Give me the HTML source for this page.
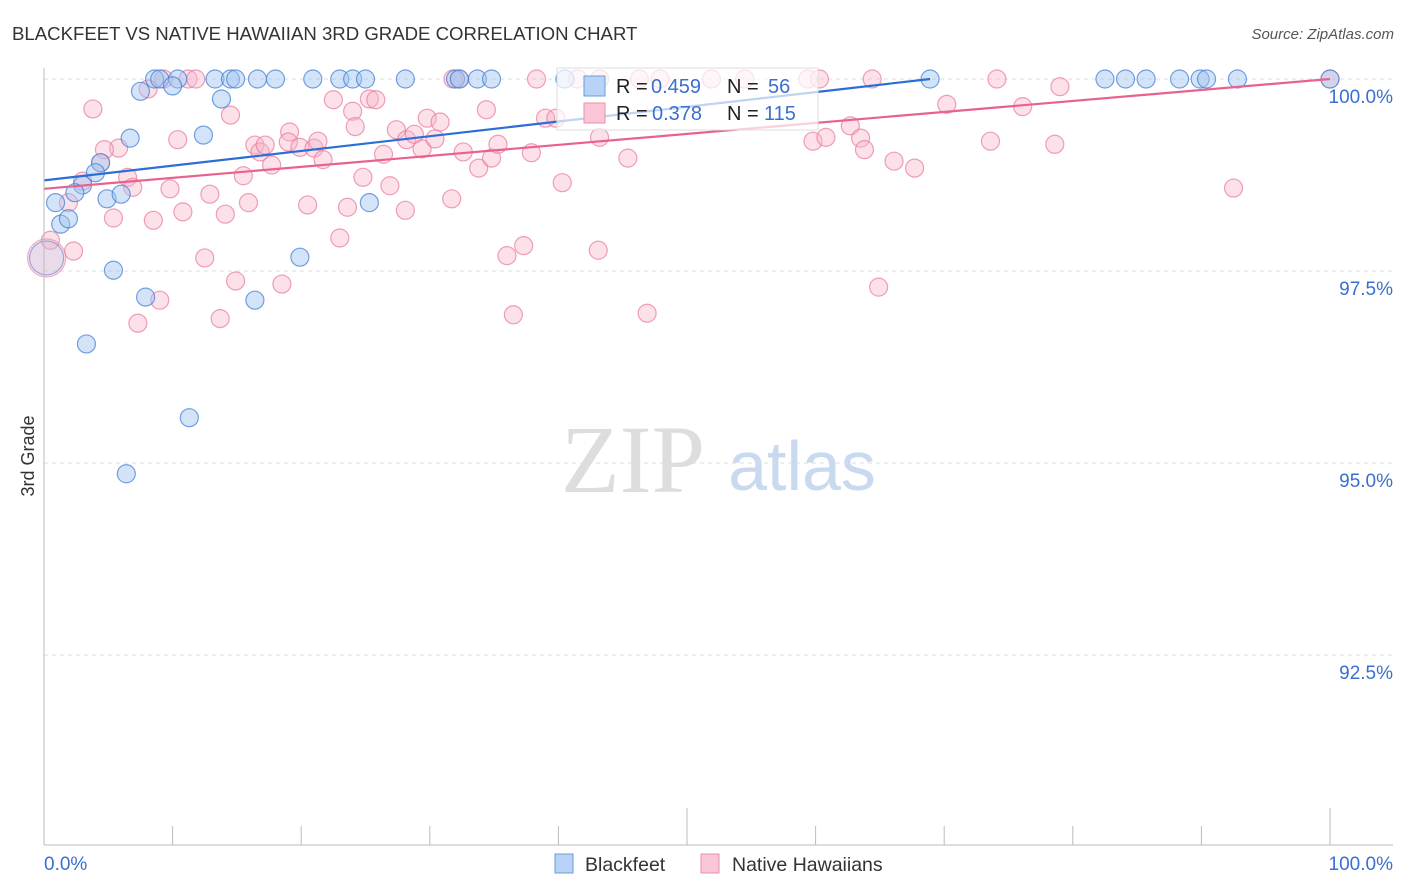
<!DOCTYPE html>
<html><head><meta charset="utf-8"><style>
body{margin:0;background:#fff;font-family:"Liberation Sans",sans-serif}
#wrap{position:relative;width:1406px;height:892px;overflow:hidden}
</style></head><body><div id="wrap">
<svg id="svg" width="1406" height="892" xmlns="http://www.w3.org/2000/svg">
<text x="12" y="40" font-size="18.6" fill="#333">BLACKFEET VS NATIVE HAWAIIAN 3RD GRADE CORRELATION CHART</text>
<text x="1394" y="39" font-size="15" fill="#555" text-anchor="end" font-style="italic">Source: ZipAtlas.com</text>
<text x="34" y="456" font-size="18" fill="#333" text-anchor="middle" transform="rotate(-90 34 456)">3rd Grade</text>
<text x="633" y="492" font-size="96" fill="#ddd" text-anchor="middle" font-family="Liberation Serif,serif">ZIP</text>
<text x="802" y="490" font-size="70" fill="#c8d9f0" text-anchor="middle">atlas</text>
<g id="grid"></g><g id="pts"></g><g id="lines"></g>
<line x1="44" y1="68" x2="44" y2="845" stroke="#bbb"/>
<line x1="44" y1="845" x2="1393" y2="845" stroke="#bbb"/>
<text x="44" y="870" font-size="19" fill="#3a6fd0">0.0%</text>
<text x="1393" y="870" font-size="19" fill="#3a6fd0" text-anchor="end">100.0%</text>
<g>
<rect x="555" y="854" width="18" height="19" fill="#b8d3f5" stroke="#6a9be0"/>
<text x="585" y="871" font-size="19.5" fill="#333">Blackfeet</text>
<rect x="701" y="854" width="18" height="19" fill="#f9c6d5" stroke="#ec8fac"/>
<text x="732" y="871" font-size="19.5" fill="#333">Native Hawaiians</text>
</g>
<g>
<rect x="557" y="68" width="261" height="62" fill="rgba(255,255,255,0.7)" stroke="#ddd"/>
<rect x="584" y="76" width="21" height="20" fill="#b8d3f5" stroke="#6a9be0"/>
<text x="616" y="93" font-size="20" fill="#222">R =</text>
<text x="651" y="93" font-size="20" fill="#3a6fd0">0.459</text>
<text x="727" y="93" font-size="20" fill="#222">N =</text>
<text x="768" y="93" font-size="20" fill="#3a6fd0">56</text>
<rect x="584" y="103" width="21" height="20" fill="#f9c6d5" stroke="#ec8fac"/>
<text x="616" y="120" font-size="20" fill="#222">R =</text>
<text x="652" y="120" font-size="20" fill="#3a6fd0">0.378</text>
<text x="727" y="120" font-size="20" fill="#222">N =</text>
<text x="764" y="120" font-size="20" fill="#3a6fd0">115</text>
</g>
</svg></div>
<script>
const yTicks=[100,97.5,95,92.5];
const yTickLabels=["100.0%","97.5%","95.0%","92.5%"];
const xTickVals=[0,10,20,30,40,50,60,70,80,90,100];
const blueX=[8.6,9.0,10.4,13.3,14.5,14.9,16.6,18.0,20.9,23.0,24.0,25.0,28.1,32.0,32.3,33.7,34.8,40.5,68.9,82.5,84.1,85.7,88.3,89.9,90.4,92.8,100,7.5,10.0,13.8,6.7,12.4,4.4,4.0,3.0,2.4,0.9,4.9,6.0,1.3,1.9,25.3,5.4,19.9,7.9,16.4,3.3,11.3,6.4];
const blueY=[100,100,100,100,100,100,100,100,100,100,100,100,100,100,100,100,100,100,100,100,100,100,100,100,100,100,100,99.84,99.91,99.74,99.23,99.27,98.91,98.78,98.62,98.52,98.39,98.44,98.50,98.11,98.18,98.39,97.51,97.68,97.16,97.12,96.55,95.59,94.86];
const pinkX=[9.3,11.2,11.8,31.8,32.3,38.3,41.5,43.2,46.3,47.9,51.9,54.5,59.4,60.3,64.4,74.1,100,79.0,3.8,8.1,14.5,10.4,5.8,4.7,4.4,6.5,6.9,3.0,1.9,2.3,0.5,5.4,8.5,9.8,10.8,12.9,12.5,14.1,13.7,14.9,7.3,9.0,15.5,15.9,16.4,16.8,17.2,17.7,18.5,19.1,19.0,19.9,20.5,21.0,21.3,21.7,22.5,23.0,23.6,24.0,24.2,24.8,25.3,25.8,26.4,26.9,27.4,28.1,28.2,28.8,29.4,29.8,30.4,30.8,31.7,32.6,33.8,34.4,34.8,35.3,36.0,36.5,37.3,37.9,39.0,39.8,40.3,43.1,43.2,45.4,46.9,59.8,60.8,62.7,63.5,63.8,64.9,66.1,67.7,70.2,73.6,76.1,78.6,92.5];
const pinkY=[100,100,100,100,100,100,100,100,100,100,100,100,100,100,100,100,100,99.9,99.61,99.87,99.53,99.21,99.10,99.08,98.91,98.72,98.59,98.67,98.39,97.76,97.90,98.19,98.16,98.57,98.27,98.50,97.67,98.24,96.88,97.37,96.82,97.12,98.74,98.39,99.14,99.05,99.14,98.88,97.33,99.31,99.18,99.11,98.36,99.10,99.19,98.95,99.73,97.93,98.33,99.58,99.38,98.72,99.74,99.73,99.02,98.61,99.34,98.29,99.21,99.28,99.09,99.49,99.22,99.44,98.44,99.05,98.84,99.60,98.97,99.15,97.70,96.93,97.83,99.04,99.49,99.49,98.65,97.77,99.24,98.97,96.95,99.19,99.24,99.39,99.23,99.08,97.29,98.93,98.84,99.67,99.19,99.64,99.15,98.58];
const bigX=[0.2];const bigY=[97.67];
const blueLine=[[0,98.68],[68.9,100]];
const pinkLine=[[0,98.57],[100,100]];
const NS="http://www.w3.org/2000/svg";
const sx=v=>44+v*12.86;
const sy=v=>79+(100-v)/2.5*192;
function mk(t,a,p){const e=document.createElementNS(NS,t);for(const k in a)e.setAttribute(k,a[k]);p.appendChild(e);return e;}
const grid=document.getElementById('grid');
yTicks.forEach((v,i)=>{
 const l=mk('line',{x1:44,x2:1393,y1:sy(v),y2:sy(v),stroke:'#ddd','stroke-dasharray':'4,4'},grid);
 
 
 const t=mk('text',{x:1393,y:sy(v)+24,'font-size':19,fill:'#3a6fd0','text-anchor':'end'},grid);
 t.textContent=yTickLabels[i];
 
 
});
xTickVals.forEach(v=>{
 const tall=(v===50||v===100);
 const l=mk('line',{x1:sx(v),x2:sx(v),y1:tall?808:826,y2:845,stroke:'#bbb'},grid);
 
 
});
const pts=document.getElementById('pts');
function dot(x,y,r,fill,stroke,name){
 const c=mk('circle',{cx:sx(x),cy:sy(y),r:r,fill:fill,stroke:stroke,'stroke-width':1.2},pts);
 
 
}
pinkX.forEach((x,i)=>dot(x,pinkY[i],9,'rgba(248,180,200,0.4)','rgba(232,120,155,0.7)','native-hawaiians-point'));
blueX.forEach((x,i)=>dot(x,blueY[i],9,'rgba(160,195,240,0.45)','rgba(70,130,215,0.75)','blackfeet-point'));
bigX.forEach((x,i)=>{dot(x,bigY[i],19,'rgba(248,180,200,0.3)','rgba(232,120,155,0.6)','native-hawaiians-big-point');dot(x,bigY[i],17,'rgba(190,190,225,0.3)','rgba(90,130,210,0.6)','blackfeet-big-point');});
const lines=document.getElementById('lines');
const bl=mk('line',{x1:sx(blueLine[0][0]),y1:sy(blueLine[0][1]),x2:sx(blueLine[1][0]),y2:sy(blueLine[1][1]),stroke:'#2b6fd6','stroke-width':2.2},lines);


const pl=mk('line',{x1:sx(pinkLine[0][0]),y1:sy(pinkLine[0][1]),x2:sx(pinkLine[1][0]),y2:sy(pinkLine[1][1]),stroke:'#e8628f','stroke-width':2.2},lines);


</script></body></html>
